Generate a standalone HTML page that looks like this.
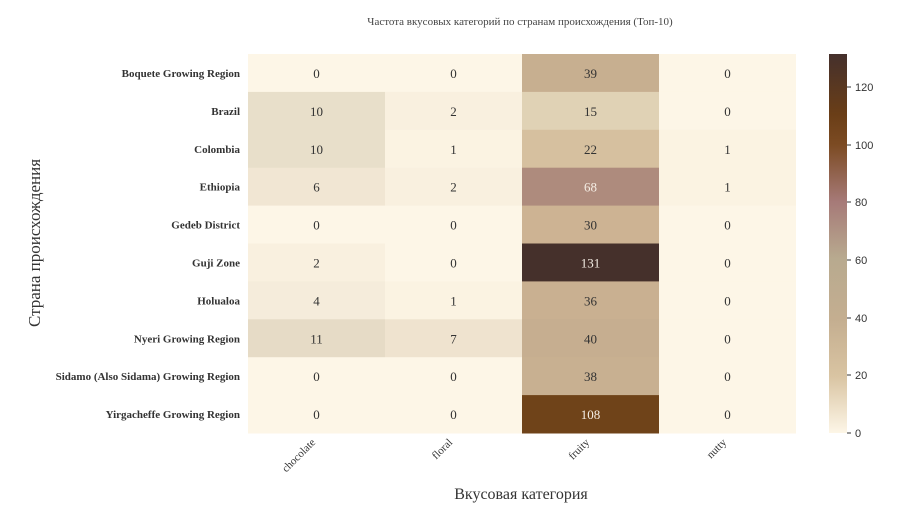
<!DOCTYPE html>
<html><head><meta charset="utf-8"><style>
body{margin:0;background:#fff;width:900px;height:517px;overflow:hidden;position:relative;font-family:"Liberation Serif",serif}
.t{position:absolute}
</style></head><body>
<svg width="900" height="517" style="position:absolute;left:0;top:0">
<defs><linearGradient id="cb" x1="0" y1="1" x2="0" y2="0">
<stop offset="0" stop-color="#fdf6e7"/><stop offset="0.15" stop-color="#d9c4a2"/><stop offset="0.3" stop-color="#c4ae90"/><stop offset="0.46" stop-color="#b8aa8f"/><stop offset="0.61" stop-color="#a67a78"/><stop offset="0.76" stop-color="#7c4b23"/><stop offset="0.84" stop-color="#6a3e17"/><stop offset="1" stop-color="#45302c"/>
</linearGradient></defs>
<text x="520" y="25" font-size="11" fill="#444" text-anchor="middle" font-family="Liberation Serif, serif">Частота вкусовых категорий по странам происхождения (Топ-10)</text>
<g id="cells"></g>
<rect x="829" y="54" width="18" height="379" fill="url(#cb)"/>
<g font-family="Liberation Sans, sans-serif" font-size="11" fill="#333" stroke="#333">
<line x1="847" y1="433" x2="851" y2="433"/><text x="855" y="437" stroke="none">0</text>
<line x1="847" y1="375" x2="851" y2="375"/><text x="855" y="379" stroke="none">20</text>
<line x1="847" y1="318" x2="851" y2="318"/><text x="855" y="322" stroke="none">40</text>
<line x1="847" y1="260" x2="851" y2="260"/><text x="855" y="264" stroke="none">60</text>
<line x1="847" y1="202" x2="851" y2="202"/><text x="855" y="206" stroke="none">80</text>
<line x1="847" y1="145" x2="851" y2="145"/><text x="855" y="149" stroke="none">100</text>
<line x1="847" y1="87" x2="851" y2="87"/><text x="855" y="91" stroke="none">120</text>
</g>
<g font-size="11" fill="#333" font-family="Liberation Serif, serif">
<text transform="translate(316,443) rotate(-45)" text-anchor="end">chocolate</text>
<text transform="translate(453,443) rotate(-45)" text-anchor="end">floral</text>
<text transform="translate(590,443) rotate(-45)" text-anchor="end">fruity</text>
<text transform="translate(727,443) rotate(-45)" text-anchor="end">nutty</text>
</g>
<text x="521" y="499" font-size="16" fill="#333" text-anchor="middle">Вкусовая категория</text>
<text transform="translate(40,243) rotate(-90)" font-size="17" fill="#333" text-anchor="middle">Страна происхождения</text>
</svg>
<script>
var rows=["Boquete Growing Region","Brazil","Colombia","Ethiopia","Gedeb District","Guji Zone","Holualoa","Nyeri Growing Region","Sidamo (Also Sidama) Growing Region","Yirgacheffe Growing Region"];
var d=[[0,0,39,0],[10,2,15,0],[10,1,22,1],[6,2,68,1],[0,0,30,0],[2,0,131,0],[4,1,36,0],[11,7,40,0],[0,0,38,0],[0,0,108,0]];
var cm={0:"#fdf6e7",1:"#fbf3e2",2:"#f9f0df",4:"#f5ecdb",6:"#f1e6d3",7:"#efe3cf",10:"#e8dfca",11:"#e6dbc6",15:"#e0d2b5",22:"#d6c09f",30:"#cdb393",36:"#c9b091",38:"#c8b091",39:"#c7af90",40:"#c6ae90",68:"#ae8b7d",108:"#6f4319",131:"#45302b"};
var g=document.getElementById("cells"),ns="http://www.w3.org/2000/svg",h="";
var x0=248,cw=137,y0=54,rh=37.9;
for(var i=0;i<10;i++){
 var y=y0+i*rh;
 h+='<text x="240" y="'+(y+rh/2+4)+'" font-size="11" fill="#333" text-anchor="end" font-family="Liberation Serif, serif" font-weight="bold">'+rows[i]+'</text>';
 for(var j=0;j<4;j++){var v=d[i][j];
  h+='<rect x="'+(x0+j*cw)+'" y="'+y+'" width="'+cw+'" height="'+(rh+0.5)+'" fill="'+cm[v]+'"/>';
  h+='<text x="'+(x0+j*cw+cw/2)+'" y="'+(y+rh/2+5)+'" font-size="13" text-anchor="middle" fill="'+(v>=68?"#f5eee5":"#333")+'" font-family="Liberation Serif, serif">'+v+'</text>';
 }}
g.innerHTML=h;
</script>
</body></html>
